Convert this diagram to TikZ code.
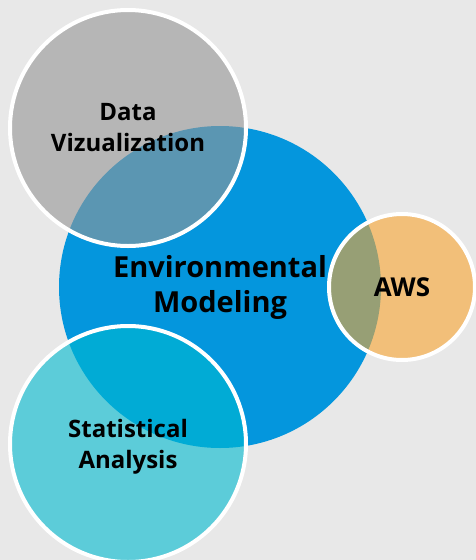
\documentclass[tikz,border=0pt]{standalone}
\usepackage{fontspec}
\setmainfont{Open Sans}
\definecolor{bggray}{HTML}{E8E8E8}
\definecolor{envblue}{RGB}{4,150,221}
\definecolor{vizgray}{RGB}{150,150,150}
\definecolor{statcyan}{RGB}{0,186,208}
\definecolor{awsorange}{RGB}{250,165,48}
\begin{document}
\begin{tikzpicture}[x=1pt,y=-1pt,
  bubble/.style={circle, inner sep=0pt, align=center, text=black},
  ring/.style={bubble, draw=white, line width=4pt, fill opacity=0.6, text opacity=1}]
\fill[bggray] (0,0) rectangle (476,560);
\useasboundingbox (0,0) rectangle (476,560);
% big circle in the middle
\node[bubble, fill=envblue, minimum size=322pt,
  font=\fontsize{29}{35}\selectfont\bfseries] (env) at (220,287) {Environmental\\Modeling};
% the three smaller ones laid over it
\node[ring, fill=vizgray, minimum size=236pt,
  font=\fontsize{24}{31}\selectfont\bfseries] (viz) at (128,128) {Data\\Vizualization};
\node[ring, fill=statcyan, minimum size=236pt, text depth=0pt,
  font=\fontsize{24}{31}\selectfont\bfseries] (stat) at (128,444) {Statistical\\Analysis};
\node[ring, fill=awsorange, minimum size=146pt,
  font=\fontsize{26}{33}\selectfont\bfseries] (aws) at (402,287) {AWS};
\end{tikzpicture}
\end{document}
